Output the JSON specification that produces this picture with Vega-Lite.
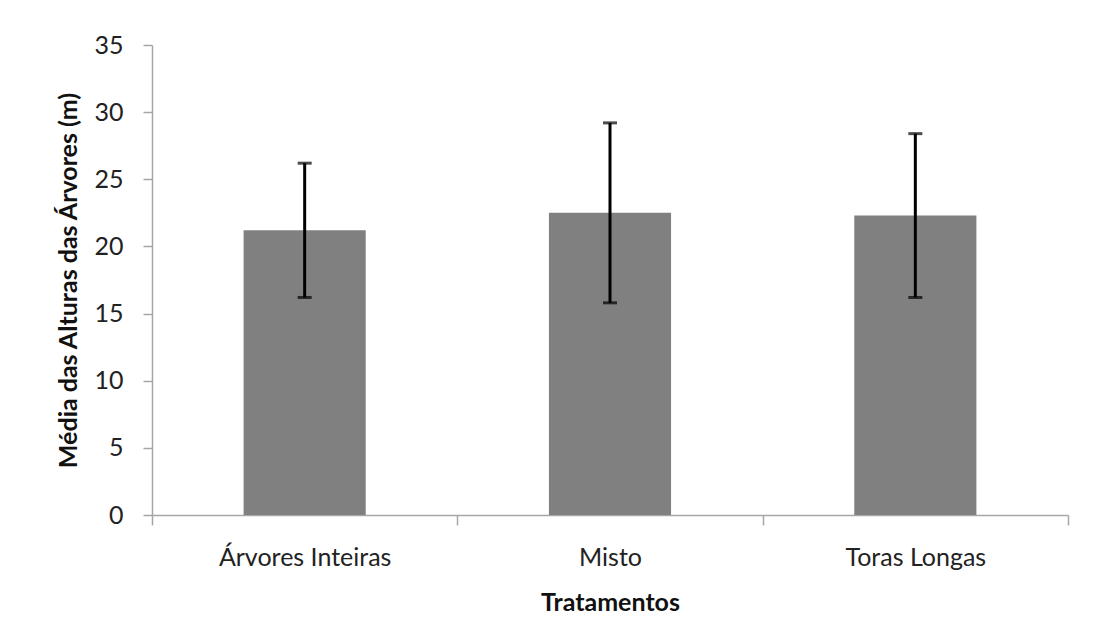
{
  "$schema": "https://vega.github.io/schema/vega-lite/v6.json",
  "autosize": {"type": "none"},
  "width": 916,
  "height": 470,
  "padding": {"left": 152, "top": 45, "right": 26, "bottom": 127},
  "background": "white",
  "config": {
    "view": {"stroke": null},
    "font": "Lato",
    "axis": {
      "labelFont": "Lato",
      "titleFont": "Lato",
      "labelColor": "#222222",
      "titleColor": "#111111",
      "domainColor": "#a6a6a6",
      "tickColor": "#a6a6a6",
      "domainWidth": 1.5,
      "tickWidth": 1.5,
      "grid": false
    }
  },
  "data": {
    "values": [
      {"Tratamento": "Árvores Inteiras", "media": 21.2, "inf": 16.2, "sup": 26.2},
      {"Tratamento": "Misto", "media": 22.5, "inf": 15.8, "sup": 29.2},
      {"Tratamento": "Toras Longas", "media": 22.3, "inf": 16.2, "sup": 28.4}
    ]
  },
  "encoding": {
    "x": {
      "field": "Tratamento",
      "type": "nominal",
      "sort": null,
      "scale": {"paddingInner": 0, "paddingOuter": 0},
      "axis": {
        "title": "Tratamentos",
        "labelAngle": 0,
        "labelFontSize": 25,
        "titleFontSize": 25,
        "titleFontWeight": "bold",
        "tickBand": "extent",
        "tickSize": 10,
        "labelPadding": 20,
        "titlePadding": 20
      }
    }
  },
  "layer": [
    {
      "mark": {"type": "bar", "color": "#808080", "width": {"band": 0.4}},
      "encoding": {
        "y": {
          "field": "media",
          "type": "quantitative",
          "scale": {"domain": [0, 35], "nice": false},
          "axis": {
            "title": "Média das Alturas das Árvores (m)",
            "values": [0, 5, 10, 15, 20, 25, 30, 35],
            "labelFontSize": 25,
            "titleFontSize": 25,
            "titleFontWeight": "bold",
            "tickSize": 9,
            "labelPadding": 20,
            "titlePadding": 12
          }
        }
      }
    },
    {
      "mark": {"type": "rule", "color": "#000000", "strokeWidth": 3},
      "encoding": {
        "y": {"field": "inf", "type": "quantitative"},
        "y2": {"field": "sup"}
      }
    },
    {
      "mark": {"type": "tick", "color": "#000000", "thickness": 3, "size": 14},
      "encoding": {"y": {"field": "inf", "type": "quantitative"}}
    },
    {
      "mark": {"type": "tick", "color": "#000000", "thickness": 3, "size": 14},
      "encoding": {"y": {"field": "sup", "type": "quantitative"}}
    }
  ]
}
